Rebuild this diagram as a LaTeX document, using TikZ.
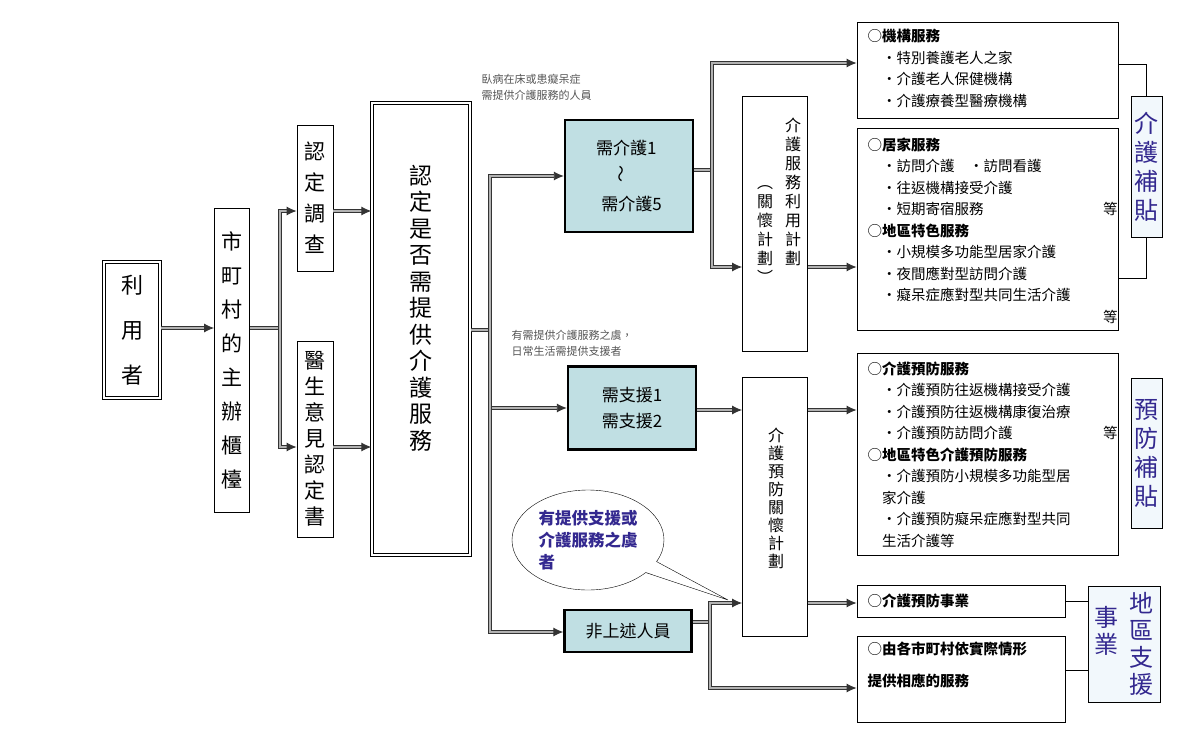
\documentclass[tikz,border=0pt]{standalone}
\usepackage{fontspec}
\setmainfont{Noto Sans CJK TC}
\usetikzlibrary{arrows.meta, shapes.callouts}
\definecolor{carefill}{HTML}{C0DFE3}
\definecolor{subsidy}{HTML}{33288F}
\definecolor{subfill}{HTML}{F2F8FC}
\definecolor{note}{HTML}{555555}

\begin{document}
\begin{tikzpicture}[x=1pt, y=-1pt,
  box/.style = {draw, line width=0.8pt, inner sep=0pt},
  frame/.style = {draw, line width=1.4pt, double, double distance=1.6pt, inner sep=0pt},
  level/.style = {draw, line width=2.4pt, fill=carefill, inner sep=0pt},
  sub/.style = {draw, line width=0.8pt, fill=subfill, text=subsidy, inner sep=0pt},
  vt/.style = {align=center, inner sep=0pt},
  list/.style = {anchor=north west, align=left, text width=250pt, font=\fontsize{14.5}{21.5}\selectfont},
  arr/.style = {draw=black!80, line width=0.9pt, double=black!30, double distance=1.3pt, -{Latex[length=10pt, width=9pt]}},
  ln/.style = {draw=black!80, line width=0.9pt, double=black!30, double distance=1.3pt},
  brk/.style = {draw, line width=0.8pt}]
\useasboundingbox (0,0) rectangle (1202,736);

% left part
\node[frame, minimum width=56, minimum height=136] (user) at (132,330) {};
\node[vt, font=\fontsize{22}{45}\selectfont] at (user) {利\\用\\者};
\node[box, minimum width=35, minimum height=304] (desk) at (232,360) {};
\node[vt, font=\fontsize{21}{34}\selectfont] at (desk) {市\\町\\村\\的\\主\\辦\\櫃\\檯};
\node[box, minimum width=36, minimum height=146] (survey) at (315,198) {};
\node[vt, font=\fontsize{21}{31}\selectfont] at (survey) {認\\定\\調\\查};
\node[box, minimum width=36, minimum height=196] (doctor) at (315,439) {};
\node[vt, font=\fontsize{21}{26}\selectfont] at (doctor) {醫\\生\\意\\見\\認\\定\\書};
\node[frame, minimum width=98, minimum height=452] (judge) at (421,329) {};
\node[vt, anchor=north, font=\fontsize{23}{26.5}\selectfont] at (421,165) {認\\定\\是\\否\\需\\提\\供\\介\\護\\服\\務};

% levels
\node[level, minimum width=128, minimum height=112] (care) at (629,176) {};
\node[align=left, font=\fontsize{17}{28}\selectfont] at (care) {需介護1\\\hspace{1.3em}\rotatebox{90}{～}\\\hspace{0.3em}需介護5};
\node[level, minimum width=128, minimum height=83] (help) at (632,408) {};
\node[align=left, font=\fontsize{17}{26}\selectfont] at (help) {需支援1\\需支援2};
\node[level, minimum width=127, minimum height=42, font=\fontsize{17}{20}\selectfont] (other) at (628,631) {非上述人員};
\node[align=left, anchor=west, text=note, font=\fontsize{11}{16}\selectfont] (note1) at (478,87) {臥病在床或患癡呆症\\需提供介護服務的人員};
\node[align=left, anchor=west, text=note, font=\fontsize{11}{16}\selectfont] (note2) at (508,343) {有需提供介護服務之虞，\\日常生活需提供支援者};

% plans
\node[box, minimum width=65, minimum height=255] (plan) at (775,224) {};
\node[vt, anchor=north, font=\fontsize{16}{19}\selectfont] at (793,118) {介\\護\\服\\務\\利\\用\\計\\劃};
\node[vt, anchor=north, font=\fontsize{16}{19}\selectfont] at (765,185) {︵\\關\\懷\\計\\劃\\︶};
\node[box, minimum width=65, minimum height=259] (prevplan) at (775,507) {};
\node[vt, anchor=north, font=\fontsize{16}{18}\selectfont] at (776,428) {介\\護\\預\\防\\關\\懷\\計\\劃};

% services
\node[box, minimum width=261, minimum height=96] (inst) at (987.5,70) {};
\node[list] at (864,26) {○\textbf{機構服務}\\
\quad・特別養護老人之家\\\quad・介護老人保健機構\\\quad・介護療養型醫療機構};
\node[box, minimum width=261, minimum height=202] (home) at (987.5,229) {};
\node[list] at (864,134) {○\textbf{居家服務}\\
\quad・訪問介護\quad・訪問看護\\\quad・往返機構接受介護\\\quad・短期寄宿服務\hfill 等\quad\\
○\textbf{地區特色服務}\\\quad・小規模多功能型居家介護\\\quad・夜間應對型訪問介護\\
\quad・癡呆症應對型共同生活介護\\\mbox{}\hfill 等\quad};
\node[box, minimum width=261, minimum height=202] (prevsvc) at (987.5,454) {};
\node[list] at (864,358) {○\textbf{介護預防服務}\\
\quad・介護預防往返機構接受介護\\\quad・介護預防往返機構康復治療\\\quad・介護預防訪問介護\hfill 等\qquad\\
○\textbf{地區特色介護預防服務}\\\quad・介護預防小規模多功能型居\\\phantom{○}家介護\\
\quad・介護預防癡呆症應對型共同\\\phantom{○}生活介護等};
\node[box, minimum width=208, minimum height=32] (project) at (961,601) {};
\node[anchor=west, font=\fontsize{14.5}{16}\selectfont] at (864,601) {○\textbf{介護預防事業}};
\node[box, minimum width=208, minimum height=86] (local) at (961,679) {};
\node[list, text width=200pt, font=\fontsize{14.5}{32}\selectfont] at (864,638) {○\textbf{由各市町村依實際情形}\\\textbf{提供相應的服務}};

% subsidies
\node[sub, minimum width=31, minimum height=141] (sub1) at (1146.5,167) {};
\node[vt, text=subsidy, font=\fontsize{24}{29}\selectfont] at (sub1) {介\\護\\補\\貼};
\node[sub, minimum width=31, minimum height=150] (sub2) at (1146.5,453) {};
\node[vt, text=subsidy, font=\fontsize{24}{29}\selectfont] at (sub2) {預\\防\\補\\貼};
\node[sub, minimum width=72, minimum height=116] (sub3) at (1124,644) {};
\node[vt, text=subsidy, font=\fontsize{24}{27}\selectfont] at (1141,644) {地\\區\\支\\援};
\node[vt, text=subsidy, font=\fontsize{24}{27}\selectfont] at (1106,631) {事\\業};

% speech bubble
\node[draw, ellipse callout, minimum width=152, minimum height=100, callout absolute pointer={(728,600)},
  text=subsidy, align=left, font=\bfseries\fontsize{16.5}{22}\selectfont] (worry) at (588,540) {有提供支援或\\介護服務之虞\\者};

% junctions
\coordinate (j1) at (280,328);
\coordinate (j2) at (490,330);
\coordinate (j3) at (712,170);
\coordinate (j4) at (710,622);

\draw[arr] (user.east |- j1) -- (desk.west |- j1);
\draw[ln] (desk.east |- j1) -- (j1);
\draw[arr] (j1) |- (survey.west |- 0,211);
\draw[arr] (j1) |- (doctor.west |- 0,447);
\draw[arr] (survey.east |- 0,211) -- (judge.west |- 0,211);
\draw[arr] (doctor.east |- 0,447) -- (judge.west |- 0,447);
\draw[ln] (judge.east |- j2) -- (j2);
\draw[arr] (j2) |- (care.west);
\draw[arr] (j2) -- (help.west -| j2) -- (help.west);
\draw[arr] (j2) |- (other.west |- 0,632);
\draw[ln] (care.east |- j3) -- (j3);
\draw[arr] (j3) |- (inst.west |- 0,63);
\draw[arr] (j3) |- (plan.west |- 0,267);
\draw[arr] (plan.east |- 0,267) -- (home.west |- 0,267);
\draw[arr] (help.east |- 0,410) -- (prevplan.west |- 0,410);
\draw[arr] (prevplan.east |- 0,410) -- (prevsvc.west |- 0,410);
\draw[ln] (other.east |- j4) -- (j4);
\draw[arr] (j4) |- (prevplan.west |- 0,603);
\draw[arr] (j4) |- (local.west |- 0,688);
\draw[arr] (prevplan.east |- 0,603) -- (project.west |- 0,603);

% brackets
\draw[brk] (inst.east |- 0,64) -| (sub1.north);
\draw[brk] (home.east |- 0,278) -| (sub1.south);
\draw[brk] (project.east) -- (sub3.west |- project.east);
\draw[brk] (local.east |- 0,670) -- (sub3.west |- 0,670);
\end{tikzpicture}
\end{document}
